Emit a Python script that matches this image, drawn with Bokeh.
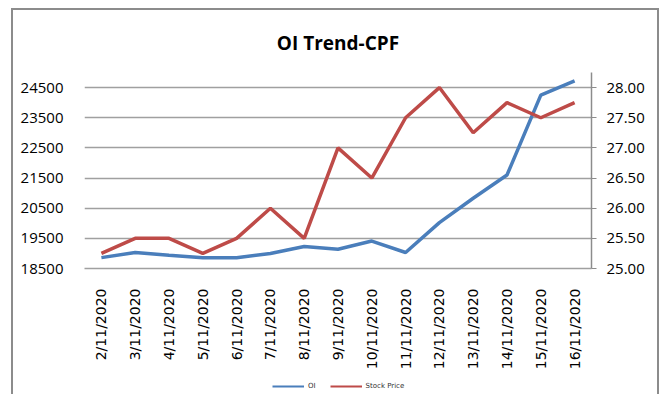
import math
from bokeh.plotting import figure
from bokeh.layouts import column
from bokeh.models import (ColumnDataSource, Range1d, LinearAxis, FixedTicker,
                          PrintfTickFormatter, Legend, LegendItem, FactorRange)
from bokeh.embed import file_html
from bokeh.resources import INLINE

dates = ["2/11/2020", "3/11/2020", "4/11/2020", "5/11/2020", "6/11/2020",
         "7/11/2020", "8/11/2020", "9/11/2020", "10/11/2020", "11/11/2020",
         "12/11/2020", "13/11/2020", "14/11/2020", "15/11/2020", "16/11/2020"]
oi = [18860, 19030, 18940, 18860, 18860, 19000, 19230, 19140, 19410, 19030,
      20020, 20830, 21600, 24250, 24720]
stock_price = [25.25, 25.5, 25.5, 25.25, 25.5, 26.0, 25.5, 27.0, 26.5, 27.5,
               28.0, 27.25, 27.75, 27.5, 27.75]
left_ticks = [18500, 19500, 20500, 21500, 22500, 23500, 24500]
right_ticks = [25.0, 25.5, 26.0, 26.5, 27.0, 27.5, 28.0]
series_names = ["OI", "Stock Price"]
series_colors = ["#4a7ebb", "#be4b48"]

src = ColumnDataSource(dict(date=dates, oi=oi, price=stock_price))

p = figure(x_range=FactorRange(*dates, range_padding=0), y_range=Range1d(18500, 25000),
           frame_width=507, frame_height=196, output_backend="svg", toolbar_location=None,
           min_border_left=71, min_border_right=66, min_border_top=62, min_border_bottom=110,
           title="OI Trend-CPF")
p.extra_y_ranges = {"price": Range1d(25, 28.25)}
p.outline_line_color = None
p.background_fill_color = "white"
p.border_fill_color = "white"

p.title.align = "center"
p.title.text_font = "Open Sans"
p.title.text_font_style = "bold"
p.title.text_font_size = "19px"
p.title.text_color = "#000000"
p.title.standoff = 33

grid_color = "#a0a0a0"
p.xgrid.visible = False
p.ygrid.ticker = FixedTicker(ticks=left_ticks)
p.ygrid.grid_line_color = grid_color
p.ygrid.grid_line_width = 1.5

ly = p.left[0]
ly.ticker = FixedTicker(ticks=left_ticks)
ly.axis_line_color = None
ly.major_tick_line_color = None
ly.minor_tick_line_color = None
ly.major_label_standoff = 15
ly.major_label_text_font = "Open Sans"
ly.major_label_text_font_size = "15px"
ly.major_label_text_color = "#000000"

ry = LinearAxis(y_range_name="price", ticker=FixedTicker(ticks=right_ticks),
                formatter=PrintfTickFormatter(format="%.2f"))
ry.axis_line_color = "#8c8c8c"
ry.axis_line_width = 1.5
ry.major_tick_line_color = "#8c8c8c"
ry.major_tick_out = 5
ry.major_tick_in = 0
ry.minor_tick_line_color = None
ry.major_label_standoff = 10
ry.major_label_text_font = "Open Sans"
ry.major_label_text_font_size = "15px"
ry.major_label_text_color = "#000000"
p.add_layout(ry, "right")

bx = p.below[0]
bx.major_label_orientation = math.pi / 2
bx.axis_line_color = grid_color
bx.axis_line_width = 1.5
bx.major_tick_line_color = None
bx.minor_tick_line_color = None
bx.major_label_standoff = 14
bx.major_label_text_font = "DejaVu Sans"
bx.major_label_text_font_size = "14px"
bx.major_label_text_color = "#000000"

p.line(x="date", y="oi", source=src, line_color=series_colors[0], line_width=3.5)
p.line(x="date", y="price", source=src, y_range_name="price",
       line_color=series_colors[1], line_width=3.5)

# legend strip below the chart
lg = figure(width=644, height=16, x_range=Range1d(0, 1), y_range=Range1d(0, 1),
            x_axis_type=None, y_axis_type=None, output_backend="svg",
            toolbar_location=None, min_border=0)
lg.outline_line_color = None
lg.grid.visible = False
lg.background_fill_color = "white"
lg.border_fill_color = "white"
items = []
for name, col in zip(series_names, series_colors):
    r = lg.line(x=[float("nan")], y=[float("nan")], line_color=col, line_width=2)
    items.append(LegendItem(label=name, renderers=[r]))
legend = Legend(items=items, orientation="horizontal", location=(188, 4),
                label_text_font="DejaVu Sans", label_text_font_size="7px",
                label_text_color="#333333",
                glyph_width=32, glyph_height=8, label_height=8, label_width=0,
                label_standoff=4, spacing=14,
                border_line_color=None, background_fill_alpha=0, margin=0, padding=0)
lg.add_layout(legend)

root = column(p, lg, spacing=0,
              styles={"margin-left": "11px", "margin-top": "8px",
                      "border-left": "2px solid #8c8c8c", "border-top": "2px solid #8c8c8c",
                      "border-right": "2px solid #8c8c8c"})

open("out.html", "w").write(file_html(root, INLINE))
